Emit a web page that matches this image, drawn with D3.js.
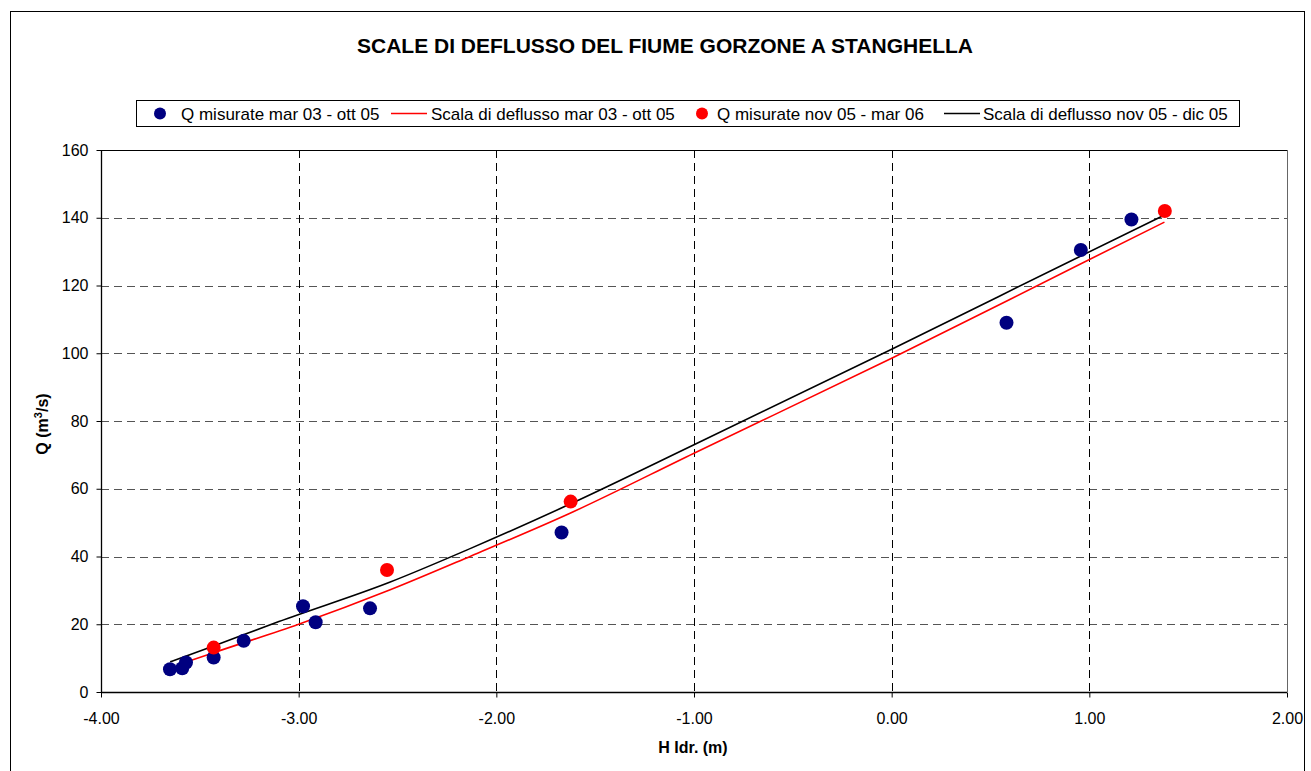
<!DOCTYPE html>
<html lang="it">
<head>
<meta charset="utf-8">
<title>Scale di deflusso - Gorzone a Stanghella</title>
<script src="https://cdn.jsdelivr.net/npm/d3@7"></script>
<style>
  body { margin: 0; background: #fff; }
  text { font-family: "Liberation Sans", Arial, sans-serif; }
</style>
</head>
<body>
<script>

// measured discharges mar 03 - ott 05 (H, Q)
var hBlue = [-3.651, -3.589, -3.570, -3.430, -3.278, -2.978, -2.914, -2.639, -1.670, 0.581, 0.957, 1.213];
var qBlue = [6.7, 7.0, 8.7, 10.2, 15.1, 25.3, 20.6, 24.7, 47.1, 109.0, 130.5, 139.5];

// measured discharges nov 05 - mar 06
var hRed = [-3.430, -2.553, -1.624, 1.382];
var qRed = [13.1, 36.0, 56.2, 142.0];

// rating curve mar 03 - ott 05
var hCurveOld = [-3.57, -3.43, -3.0, -2.54, -2.13, -1.63, -1.0, 0.0, 0.96, 1.38];
var qCurveOld = [8.8, 11.6, 20.0, 30.1, 40.1, 52.7, 70.5, 98.5, 126.5, 138.7];

// rating curve nov 05 - dic 05
var hCurveNew = [-3.65, -3.43, -3.1, -2.54, -2.13, -1.63, -1.0, 0.0, 0.96, 1.38];
var qCurveNew = [8.9, 13.6, 20.8, 32.4, 42.4, 55.4, 73.0, 101.2, 128.8, 140.8];

var xTicks = [-4, -3, -2, -1, 0, 1, 2];
var yTicks = [0, 20, 40, 60, 80, 100, 120, 140, 160];

var legendLabels = ["Q misurate mar 03 - ott 05", "Scala di deflusso mar 03 - ott 05",
                    "Q misurate nov 05 - mar 06", "Scala di deflusso nov 05 - dic 05"];

var W = 1311, H = 771;
var pLeft = 101, pRight = 1287, pTop = 150, pBottom = 692;

var svg = d3.select("body").append("svg")
  .attr("width", W).attr("height", H);

svg.append("rect").attr("width", W).attr("height", H).attr("fill", "#fff");
// outer chart frame
svg.append("rect")
  .attr("x", 10.5).attr("y", 11.5).attr("width", 1294).attr("height", 780)
  .attr("fill", "none").attr("stroke", "#000").attr("stroke-width", 1);

var x = d3.scaleLinear().domain([-4, 2]).range([pLeft, pRight]);
var y = d3.scaleLinear().domain([0, 160]).range([pBottom, pTop]);

// grid
svg.append("g").selectAll("line").data(yTicks.filter(function(d){ return d > 0 && d < 160; }))
  .enter().append("line")
  .attr("x1", pLeft).attr("x2", pRight)
  .attr("y1", function(d){ return Math.round(y(d)) + 0.5; })
  .attr("y2", function(d){ return Math.round(y(d)) + 0.5; })
  .attr("stroke", "#555").attr("stroke-dasharray", "8,5");

svg.append("g").selectAll("line").data(xTicks.filter(function(d){ return d > -4 && d < 2; }))
  .enter().append("line")
  .attr("y1", pTop).attr("y2", pBottom)
  .attr("x1", function(d){ return Math.round(x(d)) + 0.5; })
  .attr("x2", function(d){ return Math.round(x(d)) + 0.5; })
  .attr("stroke", "#000").attr("stroke-dasharray", "8,5");

// plot frame: top and right
svg.append("line").attr("x1", pLeft).attr("x2", pRight).attr("y1", pTop + 0.5).attr("y2", pTop + 0.5)
  .attr("stroke", "#000");
svg.append("line").attr("x1", pRight + 0.5).attr("x2", pRight + 0.5).attr("y1", pTop).attr("y2", pBottom)
  .attr("stroke", "#666");

// axes
var xAxis = d3.axisBottom(x).tickValues(xTicks).tickSize(5).tickPadding(15)
  .tickFormat(function(d){ return d.toFixed(2); });
var gx = svg.append("g").attr("transform", "translate(0," + (pBottom + 0.5) + ")").call(xAxis);

var yAxis = d3.axisLeft(y).tickValues(yTicks).tickSize(5).tickPadding(8);
var gy = svg.append("g").attr("transform", "translate(" + (pLeft + 0.5) + ",0)").call(yAxis);

[gx, gy].forEach(function(g){
  g.select(".domain").attr("stroke", "#000").attr("stroke-width", 1.3);
  g.selectAll(".tick line").attr("stroke", "#000");
  g.selectAll("text").attr("font-size", "16px").attr("fill", "#000")
    .attr("font-family", "Liberation Sans, Arial, sans-serif");
});
gx.select(".domain").attr("d", "M" + pLeft + ",0H" + pRight);
gy.select(".domain").attr("d", "M0," + pTop + "V" + pBottom);

// curves
var line = d3.line()
  .curve(d3.curveMonotoneX)
  .x(function(d){ return x(d[0]); })
  .y(function(d){ return y(d[1]); });

svg.append("path")
  .datum(d3.zip(hCurveNew, qCurveNew))
  .attr("d", line).attr("fill", "none").attr("stroke", "#000").attr("stroke-width", 1.6);

svg.append("path")
  .datum(d3.zip(hCurveOld, qCurveOld))
  .attr("d", line).attr("fill", "none").attr("stroke", "#ff0000").attr("stroke-width", 1.6);

// points
svg.append("g").selectAll("circle").data(d3.zip(hBlue, qBlue))
  .enter().append("circle")
  .attr("cx", function(d){ return x(d[0]); })
  .attr("cy", function(d){ return y(d[1]); })
  .attr("r", 7).attr("fill", "#000080");

svg.append("g").selectAll("circle").data(d3.zip(hRed, qRed))
  .enter().append("circle")
  .attr("cx", function(d){ return x(d[0]); })
  .attr("cy", function(d){ return y(d[1]); })
  .attr("r", 7).attr("fill", "#ff0000");

// title
svg.append("text")
  .attr("x", 665).attr("y", 53)
  .attr("text-anchor", "middle")
  .attr("font-size", "21px").attr("font-weight", "bold")
  .text("SCALE DI DEFLUSSO DEL FIUME GORZONE A STANGHELLA");

// axis titles
svg.append("text")
  .attr("x", 693).attr("y", 753)
  .attr("text-anchor", "middle")
  .attr("font-size", "16px").attr("font-weight", "bold")
  .text("H Idr. (m)");

var yl = svg.append("text")
  .attr("transform", "translate(48,424) rotate(-90)")
  .attr("text-anchor", "middle")
  .attr("font-size", "16px").attr("font-weight", "bold");
yl.append("tspan").text("Q (m");
yl.append("tspan").attr("font-size", "11px").attr("dy", -6).text("3");
yl.append("tspan").attr("dy", 6).text("/s)");

// legend
var lg = svg.append("g");
lg.append("rect")
  .attr("x", 136.5).attr("y", 100.5).attr("width", 1103).attr("height", 26)
  .attr("fill", "#fff").attr("stroke", "#000");

var legendX = [160, 391, 702, 944];
var legendTextX = [181, 431, 717, 983];
var ly = 113.5;

lg.append("circle").attr("cx", legendX[0]).attr("cy", ly).attr("r", 6).attr("fill", "#000080");
lg.append("line").attr("x1", legendX[1]).attr("x2", legendX[1] + 36).attr("y1", ly).attr("y2", ly)
  .attr("stroke", "#ff0000").attr("stroke-width", 1.6);
lg.append("circle").attr("cx", legendX[2]).attr("cy", ly).attr("r", 6).attr("fill", "#ff0000");
lg.append("line").attr("x1", legendX[3]).attr("x2", legendX[3] + 36).attr("y1", ly).attr("y2", ly)
  .attr("stroke", "#000").attr("stroke-width", 1.6);

lg.selectAll("text.lab").data(legendLabels).enter().append("text")
  .attr("class", "lab")
  .attr("x", function(d, i){ return legendTextX[i]; })
  .attr("y", ly + 6)
  .attr("font-size", "17px")
  .text(function(d){ return d; });

</script>
</body>
</html>
